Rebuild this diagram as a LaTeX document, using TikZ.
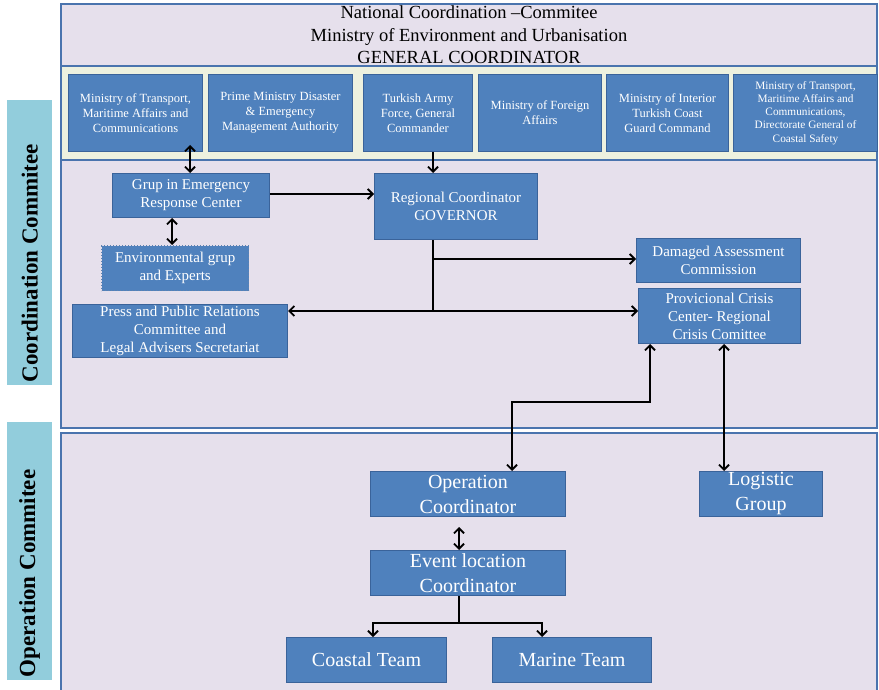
\documentclass[tikz,border=0pt]{standalone}
\usepackage{fontspec}
\setmainfont{Liberation Serif}
\usetikzlibrary{arrows.meta}

\definecolor{boxblue}{HTML}{4F81BD}
\definecolor{boxedge}{HTML}{3A639A}
\definecolor{framecol}{HTML}{4A74AE}
\definecolor{lavender}{HTML}{E6E0EC}
\definecolor{stripcol}{HTML}{EDF1DF}
\definecolor{sidecol}{HTML}{92CDDC}

\tikzset{
  unit/.style={draw=boxedge, fill=boxblue, text=white, align=center,
    inner sep=0pt, line width=1pt, anchor=north west},
  ministry/.style={unit, font=\fontsize{12.5}{15}\selectfont},
  coord/.style={unit, font=\fontsize{15}{18}\selectfont},
  oper/.style={unit, font=\fontsize{20}{25}\selectfont},
  sidelabel/.style={fill=sidecol, inner sep=0pt, anchor=north west},
  sidetext/.style={rotate=90, anchor=west, inner sep=0pt,
    font=\fontsize{23}{25}\selectfont\bfseries},
  link/.style={line width=1.8pt, black, >={Straight Barb[length=5pt,width=10pt,line width=1.8pt]}},
  frame/.style={draw=framecol, line width=1.2pt}
}

\begin{document}
\begin{tikzpicture}[x=1pt, y=-1pt]
\useasboundingbox (0,0) rectangle (879,690);

% committee frames
\fill[lavender] (61,4) rectangle (877,428);
\fill[stripcol] (61,66) rectangle (877,160);
\draw[frame] (61,4) rectangle (877,428);
\draw[frame] (61,66) -- (877,66);
\draw[frame] (61,160) -- (877,160);
\fill[lavender] (61,433) rectangle (877,695);
\draw[frame] (61,695) -- (61,433) -- (877,433) -- (877,695);

% national header
\node[align=center, font=\fontsize{18.5}{22.5}\selectfont, anchor=center] (national) at (469,35)
  {National Coordination --Commitee\\ Ministry of Environment and Urbanisation\\ GENERAL COORDINATOR};

% side labels, text set from the bottom of each band
\node[sidelabel, minimum width=45pt, minimum height=285pt] (coordside) at (7,100) {};
\node[sidetext] at ([yshift=3pt]coordside.south) {Coordination Commitee};
\node[sidelabel, minimum width=45pt, minimum height=258pt] (operside) at (7,422) {};
\node[sidetext] at ([yshift=3pt]operside.south) {Operation Commitee};

% ministries
\node[ministry, minimum width=134pt, minimum height=77pt] (m1) at (68,74)
  {Ministry of Transport,\\ Maritime Affairs and\\ Communications};
\node[ministry, minimum width=144pt, minimum height=77pt] (m2) at (208,74)
  {Prime Ministry Disaster\\ \& Emergency\\ Management Authority};
\node[ministry, minimum width=109pt, minimum height=77pt] (m3) at (363,74)
  {Turkish Army\\ Force, General\\ Commander};
\node[ministry, minimum width=123pt, minimum height=77pt] (m4) at (478,74)
  {Ministry of Foreign\\ Affairs};
\node[ministry, minimum width=122pt, minimum height=77pt] (m5) at (606,74)
  {Ministry of Interior\\ Turkish Coast\\ Guard Command};
\node[ministry, minimum width=144pt, minimum height=77pt,
  font=\fontsize{11.3}{13.2}\selectfont] (m6) at (733,74)
  {Ministry of Transport,\\ Maritime Affairs and\\ Communications,\\ Directorate General of\\ Coastal Safety};

% coordination committee
\node[coord, minimum width=157pt, minimum height=44pt] (grup) at (112,173)
  {Grup in Emergency\\ Response Center};
\node[coord, minimum width=147pt, minimum height=45pt, draw=boxedge!80!white,
  dotted, line width=1.4pt] (env) at (101,245)
  {Environmental grup\\ and Experts};
\node[coord, minimum width=215pt, minimum height=53pt] (press) at (72,304)
  {Press and Public Relations\\ Committee and\\ Legal Advisers Secretariat};
\node[coord, minimum width=163pt, minimum height=66pt] (governor) at (374,173)
  {Regional Coordinator\\ GOVERNOR};
\node[coord, minimum width=164pt, minimum height=44pt] (damage) at (636,238)
  {Damaged Assessment\\ Commission};
\node[coord, minimum width=162pt, minimum height=55pt] (crisis) at (638,288)
  {Provicional Crisis\\ Center- Regional\\ Crisis Comittee};

% operation committee
\node[oper, minimum width=195pt, minimum height=45pt] (opcoord) at (370,471)
  {Operation\\ Coordinator};
\node[oper, minimum width=123pt, minimum height=45pt] (logistic) at (699,471)
  {Logistic\\ Group};
\node[oper, minimum width=195pt, minimum height=45pt] (event) at (370,550)
  {Event location\\ Coordinator};
\node[oper, minimum width=160pt, minimum height=45pt] (coastal) at (286,637)
  {Coastal Team};
\node[oper, minimum width=159pt, minimum height=45pt] (marine) at (492,637)
  {Marine Team};

% junction points
\coordinate (gx) at (433,0);
\coordinate (splitA) at (433,259);
\coordinate (splitB) at (433,311);
\coordinate (bendA) at (650,402);
\coordinate (bendB) at (512,402);
\coordinate (fork) at (459,623);

% connectors
\draw[link, <->] (grup.north -| 190,0) -- ([yshift=7pt]m1.south -| 190,0);
\draw[link, ->] (m3.south -| gx) -- (governor.north -| gx);
\draw[link, ->] (grup.east |- 0,194) -- (governor.west |- 0,194);
\draw[link, <->] (grup.south -| 172,0) -- (env.north -| 172,0);
\draw[link] (governor.south -| gx) -- (splitB);
\draw[link, ->] (splitA) -- (damage.west |- splitA);
\draw[link, ->] (splitB) -- (press.east |- splitB);
\draw[link, ->] (splitB) -- (crisis.west |- splitB);
\draw[link, <->] (crisis.south -| bendA) -- (bendA) -- (bendB) -- (opcoord.north -| bendB);
\draw[link, <->] (crisis.south -| 724,0) -- (logistic.north -| 724,0);
\draw[link, <->] ([yshift=-10pt]opcoord.south -| fork) -- (event.north -| fork);
\draw[link] (event.south -| fork) -- (fork);
\draw[link, ->] (fork) -| (coastal.north -| 373,0);
\draw[link, ->] (fork) -| (marine.north -| 542,0);
\end{tikzpicture}
\end{document}
